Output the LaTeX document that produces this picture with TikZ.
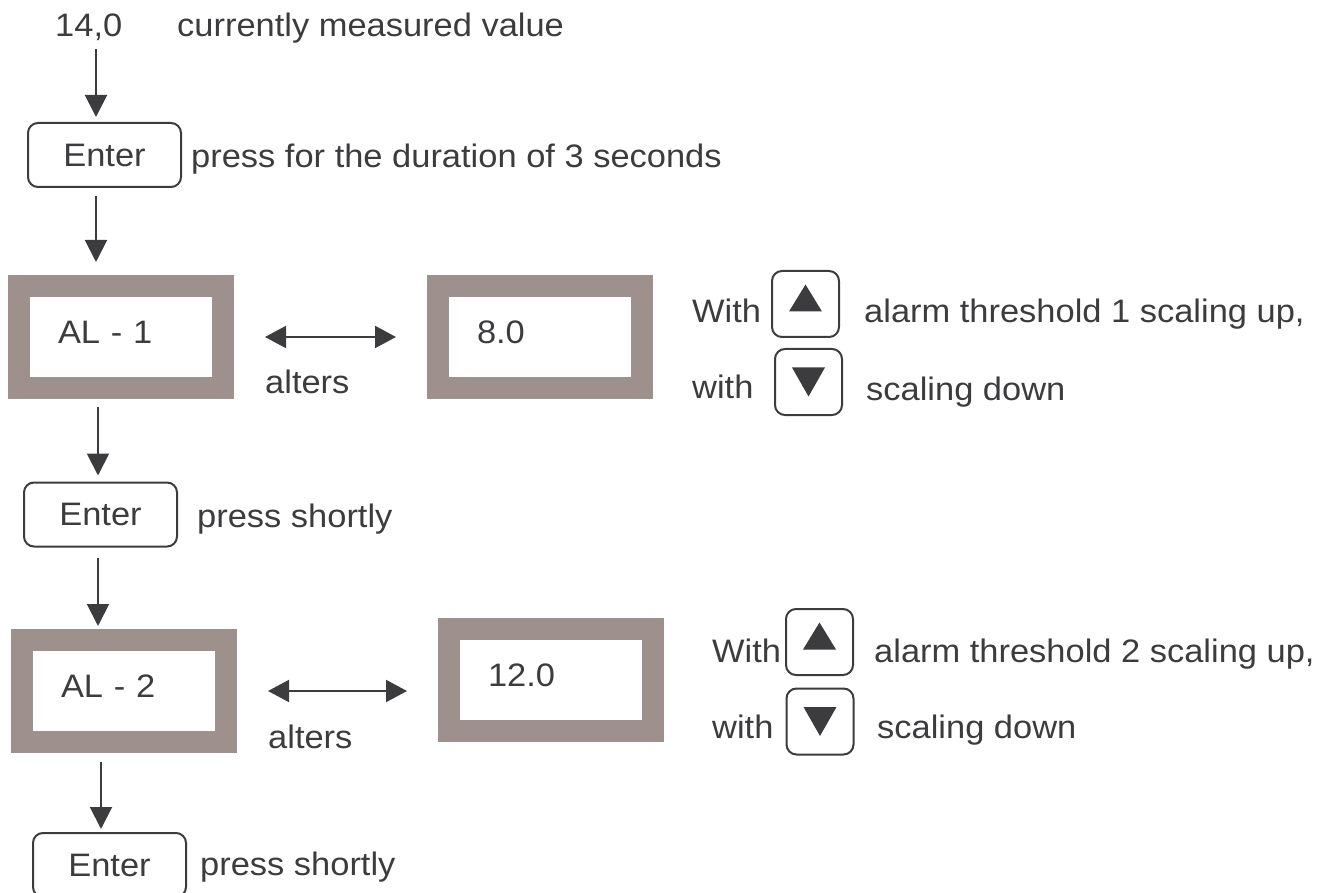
\documentclass[tikz,border=0pt]{standalone}
\usepackage{fontspec}
\setmainfont{Liberation Sans}[FakeStretch=1.06]
\usetikzlibrary{arrows.meta}
\definecolor{ink}{RGB}{60,60,62}
\definecolor{frame}{RGB}{158,145,141}
\begin{document}
\begin{tikzpicture}[x=1pt,y=-1pt,
  font={\fontsize{32.5}{40}\selectfont},
  every node/.style={text=ink},
  txt/.style={anchor=base west,inner sep=0pt},
  enterkey/.style={draw=ink,line width=2pt,rounded corners=10pt,minimum width=153pt,minimum height=64pt},
  arrowkey/.style={draw=ink,line width=2pt,rounded corners=10pt,minimum width=67pt,minimum height=66pt},
  display/.style={draw=frame,line width=22pt,minimum height=102pt,text width=126pt,inner xsep=39pt,align=left,text height=23.3pt,text depth=10.6pt},
  flow/.style={draw=ink,line width=2pt,-{Triangle[width=22pt,length=22pt]},shorten <=8pt,shorten >=5pt},
  toggle/.style={draw=ink,line width=2pt,{Triangle[width=22pt,length=21pt]}-{Triangle[width=22pt,length=21pt]},shorten <=31pt,shorten >=31pt}]
\useasboundingbox (0,0) rectangle (1318,893);
\clip (0,0) rectangle (1318,893);
\node[txt] (n0) at (55,37) {14,0};
\node[txt] (n0note) at (177,37) {currently measured value};
\node[enterkey] (e1) at (104.5,155) {Enter};
\node[txt] (e1note) at (191,168) {press for the duration of 3 seconds};
\node[display] (al1) at (121,337) {AL - 1};
\node[display] (v1) at (540,337) {8.0};
\node[txt] (alt1) at (265,394) {alters};
\node[txt] (w1) at (692,323) {With};
\node[arrowkey] (up1) at (805.5,304) {};
\node[txt] (up1note) at (864,323) {alarm threshold 1 scaling up,};
\node[txt] (w1b) at (692,399) {with};
\node[arrowkey] (dn1) at (808.5,382) {};
\node[txt] (dn1note) at (866,400) {scaling down};
\node[enterkey] (e2) at (100.5,514.5) {Enter};
\node[txt] (e2note) at (197,527) {press shortly};
\node[display] (al2) at (124,691) {AL - 2};
\node[display] (v2) at (551,680) {12.0};
\node[txt] (alt2) at (268,748) {alters};
\node[txt] (w2) at (712,662) {With};
\node[arrowkey] (up2) at (819.5,642) {};
\node[txt] (up2note) at (874,662) {alarm threshold 2 scaling up,};
\node[txt] (w2b) at (712,738) {with};
\node[arrowkey] (dn2) at (820,721.5) {};
\node[txt] (dn2note) at (877,738) {scaling down};
\node[enterkey] (e3) at (109.5,865) {Enter};
\node[txt] (e3note) at (200,875) {press shortly};
\draw[flow] ([xshift=-8.5pt]e1.north |- n0.south) -- ([xshift=-8.5pt]e1.north);
\draw[flow,shorten >=13pt] ([xshift=-8.5pt]e1.south) -- ([xshift=-8.5pt]e1.south |- al1.north);
\draw[flow,shorten >=6pt] ([xshift=-23pt]al1.south) -- ([xshift=-23pt]al1.south |- e2.north);
\draw[flow,shorten <=10pt,shorten >=3pt] ([xshift=-2.5pt]e2.south) -- ([xshift=-2.5pt]e2.south |- al2.north);
\draw[flow,shorten <=9pt,shorten >=3pt] ([xshift=-23pt]al2.south) -- ([xshift=-23pt]al2.south |- e3.north);
\draw[toggle] (al1.east) -- (al1.east -| v1.west);
\draw[toggle] (al2.east) -- (al2.east -| v2.west);
\foreach \k in {up1,up2}
  \fill[ink] ([yshift=19.5pt]\k.center) -- ++(-16.5,27) -- ++(33,0) -- cycle;
\foreach \k in {dn1,dn2}
  \fill[ink] ([yshift=-14.5pt]\k.center) -- ++(-16.5,-29) -- ++(33,0) -- cycle;
\end{tikzpicture}
\end{document}
